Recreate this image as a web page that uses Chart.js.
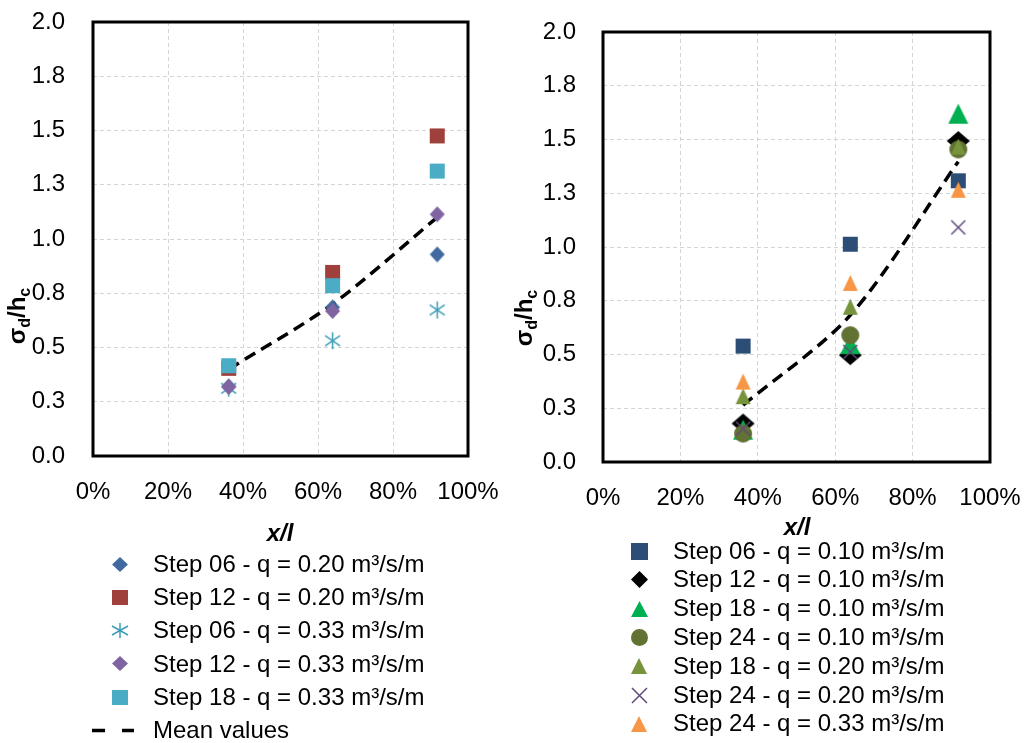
<!DOCTYPE html>
<html>
<head>
<meta charset="utf-8">
<script src="https://cdn.jsdelivr.net/npm/chart.js@4.4.1/dist/chart.umd.min.js"></script>
<style>
  html, body { margin: 0; padding: 0; background: #fff; }
  #wrap { position: relative; width: 1024px; height: 743px; overflow: hidden; }
  .panel { position: absolute; top: 0; width: 512px; height: 743px; }
  #leftPanel { left: 0; }
  #rightPanel { left: 512px; }
</style>
</head>
<body>
<div id="wrap">
  <div class="panel" id="leftPanel"><canvas id="leftChart" width="512" height="743"></canvas></div>
  <div class="panel" id="rightPanel"><canvas id="rightChart" width="512" height="743"></canvas></div>
</div>
<script>
// ---- data ----
const xPositions = [0.362, 0.639, 0.918];
const xTickLabels = ['0%', '20%', '40%', '60%', '80%', '100%'];
const yTickLabels = ['0.0', '0.3', '0.5', '0.8', '1.0', '1.3', '1.5', '1.8', '2.0'];

// left panel series
const leftLabels = [
  'Step 06 - q = 0.20 m³/s/m',
  'Step 12 - q = 0.20 m³/s/m',
  'Step 06 - q = 0.33 m³/s/m',
  'Step 12 - q = 0.33 m³/s/m',
  'Step 18 - q = 0.33 m³/s/m',
  'Mean values'
];
const leftStep06q020 = [0.32, 0.685, 0.929];
const leftStep12q020 = [0.404, 0.846, 1.475];
const leftStep06q033 = [0.312, 0.531, 0.673];
const leftStep12q033 = [0.319, 0.668, 1.114];
const leftStep18q033 = [0.416, 0.785, 1.313];
const leftMean = [0.40, 0.70, 1.10];

// right panel series
const rightLabels = [
  'Step 06 - q = 0.10 m³/s/m',
  'Step 12 - q = 0.10 m³/s/m',
  'Step 18 - q = 0.10 m³/s/m',
  'Step 24 - q = 0.10 m³/s/m',
  'Step 18 - q = 0.20 m³/s/m',
  'Step 24 - q = 0.20 m³/s/m',
  'Step 24 - q = 0.33 m³/s/m'
];
const rightStep06q010 = [0.539, 1.013, 1.308];
const rightStep12q010 = [0.179, 0.497, 1.493];
const rightStep18q010 = [0.150, 0.548, 1.620];
const rightStep24q010 = [0.132, 0.590, 1.454];
const rightStep18q020 = [0.306, 0.722, 1.467];
const rightStep24q020 = [0.155, 0.512, 1.091];
const rightStep24q033 = [0.374, 0.833, 1.266];
const rightMean = [0.264, 0.683, 1.397];

// ---- drawing helpers ----
const FONT = "'Liberation Sans', Arial, Helvetica, sans-serif";

function makeMarker(shape, color, w, h, lw) {
  const pad = 2;
  const c = document.createElement('canvas');
  c.width = w + pad * 2;
  c.height = h + pad * 2;
  const g = c.getContext('2d');
  g.fillStyle = color;
  g.strokeStyle = color;
  g.lineWidth = lw || 1.5;
  const x0 = pad, y0 = pad, cx = pad + w / 2, cy = pad + h / 2;
  g.beginPath();
  if (shape === 'square') {
    g.fillRect(x0, y0, w, h);
  } else if (shape === 'diamond') {
    g.moveTo(cx, y0); g.lineTo(x0 + w, cy); g.lineTo(cx, y0 + h); g.lineTo(x0, cy);
    g.closePath(); g.fill();
  } else if (shape === 'triangle') {
    g.moveTo(cx, y0); g.lineTo(x0 + w, y0 + h); g.lineTo(x0, y0 + h);
    g.closePath(); g.fill();
  } else if (shape === 'circle') {
    g.ellipse(cx, cy, w / 2, h / 2, 0, 0, Math.PI * 2); g.fill();
  } else if (shape === 'x') {
    g.moveTo(x0, y0); g.lineTo(x0 + w, y0 + h);
    g.moveTo(x0 + w, y0); g.lineTo(x0, y0 + h); g.stroke();
  } else if (shape === 'asterisk') {
    g.moveTo(x0, y0 + h * 0.2); g.lineTo(x0 + w, y0 + h * 0.8);
    g.moveTo(x0 + w, y0 + h * 0.2); g.lineTo(x0, y0 + h * 0.8);
    g.moveTo(cx, y0); g.lineTo(cx, y0 + h); g.stroke();
  }
  return c;
}

function toPoints(values) {
  return values.map((v, i) => ({ x: xPositions[i], y: v }));
}

function markerSets(labels, plotMarkers, legendMarkers, values) {
  return values.map((vals, i) => ({
    label: labels[i],
    data: toPoints(vals),
    pointStyle: plotMarkers[i],
    legendMarker: legendMarkers[i],
    pointRadius: 6,
    pointHoverRadius: 6,
    showLine: false,
    order: values.length - i
  }));
}

function meanSet(label, values) {
  return {
    label: label,
    data: toPoints(values),
    showLine: true,
    pointRadius: 0,
    pointHoverRadius: 0,
    borderColor: '#000',
    borderWidth: 3.5,
    borderDash: [12, 7],
    borderCapStyle: 'butt',
    tension: 0.3,
    fill: false,
    order: 100
  };
}

// frame, axis titles and legend
function decorPlugin(cfg) {
  return {
    id: 'decor',
    beforeDatasetsDraw(chart) {
      const a = chart.chartArea, ctx = chart.ctx;
      ctx.save();
      ctx.strokeStyle = '#000';
      ctx.lineWidth = 3;
      ctx.strokeRect(a.left, a.top, a.right - a.left, a.bottom - a.top);
      ctx.restore();
    },
    afterDraw(chart) {
      const ctx = chart.ctx;
      ctx.save();
      // y title: sigma_d / h_c, rotated
      const parts = [['σ', false], ['d', true], ['/h', false], ['c', true]];
      const main = 'bold 24px ' + FONT, sub = 'bold 16px ' + FONT;
      ctx.translate(cfg.yTitleX, cfg.yTitleY);
      ctx.rotate(-Math.PI / 2);
      let total = 0;
      parts.forEach(p => { ctx.font = p[1] ? sub : main; total += ctx.measureText(p[0]).width; });
      let x = -total / 2;
      ctx.fillStyle = '#000';
      ctx.textBaseline = 'alphabetic';
      ctx.textAlign = 'left';
      parts.forEach(p => {
        ctx.font = p[1] ? sub : main;
        ctx.fillText(p[0], x, p[1] ? 5 : 0);
        x += ctx.measureText(p[0]).width;
      });
      ctx.restore();

      // x title
      ctx.save();
      ctx.fillStyle = '#000';
      ctx.font = 'italic bold 24px ' + FONT;
      ctx.textAlign = 'center';
      ctx.textBaseline = 'middle';
      ctx.fillText('x/l', cfg.xTitleX, cfg.xTitleY);
      ctx.restore();

      // legend
      ctx.save();
      ctx.font = '24px ' + FONT;
      ctx.fillStyle = '#000';
      ctx.textAlign = 'left';
      ctx.textBaseline = 'middle';
      chart.data.datasets.forEach((ds, i) => {
        const y = cfg.legendY + i * cfg.legendStep;
        if (ds.legendMarker) {
          const m = ds.legendMarker;
          ctx.drawImage(m, Math.round(cfg.legendMarkerX - m.width / 2), Math.round(y - m.height / 2));
        } else {
          ctx.save();
          ctx.strokeStyle = '#000';
          ctx.lineWidth = 3.5;
          ctx.setLineDash([13, 17]);
          ctx.beginPath();
          ctx.moveTo(cfg.legendMarkerX - 28, y);
          ctx.lineTo(cfg.legendMarkerX + 14, y);
          ctx.stroke();
          ctx.restore();
        }
        ctx.fillText(ds.label, cfg.legendTextX, y + 1);
      });
      ctx.restore();
    }
  };
}

function buildChart(canvasId, datasets, area, cfg) {
  const W = 512, H = 743, xAxisH = 60;
  return new Chart(document.getElementById(canvasId), {
    type: 'scatter',
    data: { datasets: datasets },
    options: {
      responsive: false,
      animation: false,
      devicePixelRatio: 1,
      layout: {
        padding: { left: 0, top: area.top, right: W - area.right, bottom: H - area.bottom - xAxisH }
      },
      plugins: { legend: { display: false }, tooltip: { enabled: false } },
      scales: {
        x: {
          type: 'linear', min: 0, max: 1,
          ticks: {
            stepSize: 0.2, padding: 22, color: '#000',
            font: { family: FONT, size: 24 },
            callback: (v, i) => xTickLabels[i]
          },
          grid: { color: '#D4D4D4', lineWidth: 1, drawTicks: false },
          border: { display: false, dash: [4, 3] },
          afterFit(s) { s.height = xAxisH; s.paddingLeft = 0; s.paddingRight = 0; }
        },
        y: {
          type: 'linear', min: 0, max: 2,
          ticks: {
            stepSize: 0.25, padding: cfg.yTickPad, color: '#000',
            font: { family: FONT, size: 24 },
            callback: (v, i) => yTickLabels[i]
          },
          grid: { color: '#D4D4D4', lineWidth: 1, drawTicks: false },
          border: { display: false, dash: [4, 3] },
          afterFit(s) { s.width = area.left; s.paddingTop = 0; s.paddingBottom = 0; }
        }
      }
    },
    plugins: [decorPlugin(cfg)]
  });
}

// ---- left panel ----
const leftPlotMarkers = [
  makeMarker('diamond', '#41699F', 15, 16),
  makeMarker('square', '#A0403D', 15, 15),
  makeMarker('asterisk', '#3E9DB4', 15, 17, 1.5),
  makeMarker('diamond', '#8064A2', 15, 16),
  makeMarker('square', '#4BACC6', 15, 15)
];
const leftLegendMarkers = [
  makeMarker('diamond', '#41699F', 16, 15),
  makeMarker('square', '#A0403D', 16, 15),
  makeMarker('asterisk', '#3E9DB4', 16, 15, 1.5),
  makeMarker('diamond', '#8064A2', 16, 15),
  makeMarker('square', '#4BACC6', 16, 15)
];
const leftDatasets = markerSets(leftLabels, leftPlotMarkers, leftLegendMarkers,
  [leftStep06q020, leftStep12q020, leftStep06q033, leftStep12q033, leftStep18q033]);
leftDatasets.push(meanSet(leftLabels[5], leftMean));

buildChart('leftChart', leftDatasets,
  { left: 93, right: 468, top: 22, bottom: 456 },
  { yTickPad: 28, yTitleX: 25, yTitleY: 316, xTitleX: 280, xTitleY: 534,
    legendMarkerX: 120, legendTextX: 153, legendY: 564, legendStep: 33.3 });

// ---- right panel ----
const rightPlotMarkers = [
  makeMarker('square', '#2C4D75', 15, 15),
  makeMarker('diamond', '#000000', 23, 20),
  makeMarker('triangle', '#00B050', 20, 20),
  makeMarker('circle', '#617232', 18, 18),
  makeMarker('triangle', '#77933C', 15, 16),
  makeMarker('x', '#604A7B', 14, 14, 1.5),
  makeMarker('triangle', '#F79646', 15, 16)
];
const rightLegendMarkers = [
  makeMarker('square', '#2C4D75', 17, 17),
  makeMarker('diamond', '#000000', 17, 17),
  makeMarker('triangle', '#00B050', 17, 16),
  makeMarker('circle', '#617232', 17, 17),
  makeMarker('triangle', '#77933C', 16, 16),
  makeMarker('x', '#604A7B', 15, 15, 1.5),
  makeMarker('triangle', '#F79646', 16, 16)
];
const rightDatasets = markerSets(rightLabels, rightPlotMarkers, rightLegendMarkers,
  [rightStep06q010, rightStep12q010, rightStep18q010, rightStep24q010,
   rightStep18q020, rightStep24q020, rightStep24q033]);
rightDatasets.push(meanSet('Mean values', rightMean));

buildChart('rightChart', rightDatasets,
  { left: 91, right: 478, top: 32, bottom: 462 },
  { yTickPad: 27, yTitleX: 20, yTitleY: 318, xTitleX: 285, xTitleY: 528,
    legendMarkerX: 127, legendTextX: 161, legendY: 551, legendStep: 28.8 });
</script>
</body>
</html>
